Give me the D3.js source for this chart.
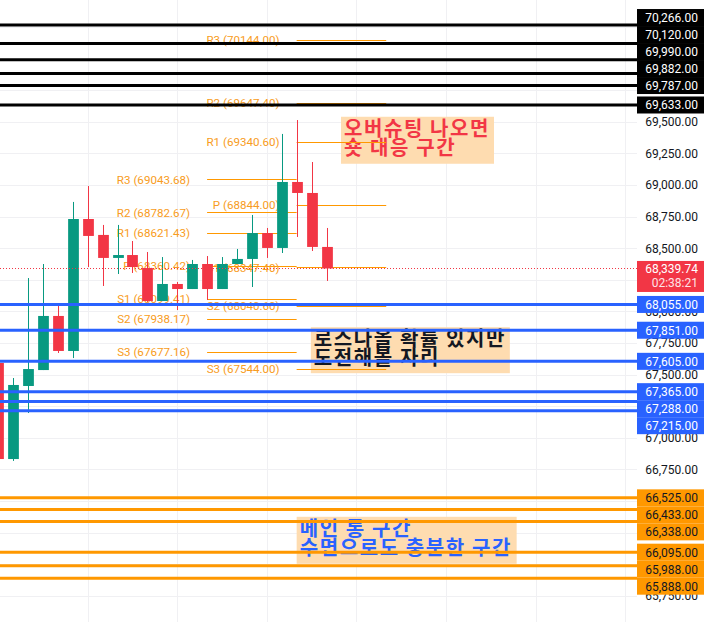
<!DOCTYPE html>
<html>
<head>
<meta charset="utf-8">
<script src="https://cdn.jsdelivr.net/npm/d3@7"></script>
<style>
  html, body { margin: 0; padding: 0; background: #fff; }
  svg { display: block; }
</style>
</head>
<body>
<svg id="chart" width="707" height="622"></svg>
<script>
// ---- price bars (4-hour candles), oldest first; first bar sits at index -1 ----
const barStart = -1;
const opens  = [67592, 66832, 67410, 67536, 67964, 67687, 68731, 68605, 68423, 68446, 68343, 68082, 68217, 68177, 68375, 68177, 68375, 68415, 68620, 68502, 69024, 68937, 68510];
const highs  = [67600, 67473, 68264, 68375, 68043, 68866, 68992, 68684, 68684, 68557, 68470, 68430, 68233, 68407, 68438, 68430, 68494, 68763, 68660, 69404, 69514, 69182, 68660];
const lows   = [66800, 66817, 67196, 67536, 67671, 67631, 68351, 68201, 68296, 68304, 68075, 68082, 68011, 68177, 68090, 68177, 68375, 68193, 68423, 68462, 68589, 68478, 68241];
const closes = [66832, 67418, 67544, 67964, 67687, 68731, 68597, 68423, 68446, 68351, 68082, 68217, 68177, 68375, 68177, 68375, 68415, 68620, 68502, 69024, 68937, 68510, 68339.74];

const lastPrice = 68339.74;
const countdown = "02:38:21";

// ---- Fibonacci pivot sets (each spans 6 bars) ----
const pivotNames = ["R3", "R2", "R1", "P", "S1", "S2", "S3"];
const pivotSpans = [[13, 19], [19, 25]];
const pivotsA = [69043.68, 68782.67, 68621.43, 68360.42, 68099.41, 67938.17, 67677.16];
const pivotsB = [70144.00, 69647.40, 69340.60, 68844.00, 68347.40, 68040.60, 67544.00];

// ---- hand-drawn horizontal levels ----
const blackLevels  = [70266, 70120, 69990, 69882, 69787, 69633];
const blueLevels   = [68055, 67851, 67605, 67365, 67288, 67215];
const orangeLevels = [66525, 66433, 66338, 66095, 65988, 65888];

// ---- price axis ticks and time grid ----
const priceTicks = d3.range(65750, 70251, 250);
const timeGridBars = [5, 11, 17, 23, 29, 35, 41];

// ---- notes ----
const notes = [
  { lines: ["오버슈팅 나오면", "숏 대응 구간"], color: "#f23645", price: 69540, bar: 21.97, w: 153, h: 47 },
  { lines: ["로스나올 확률 있지만", "도전해볼 자리"], color: "#131722", price: 67875, bar: 19.95, w: 199, h: 46 },
  { lines: ["메인 롱 구간", "수면으로도 충분한 구간"], color: "#2962ff", price: 66375, bar: 19.0, w: 220, h: 47 }
];

// ---------------------------------------------------------------
const W = 707, H = 622;
const plotRight = 637;
const svg = d3.select("#chart");

const x = d3.scaleLinear().domain([0, 41]).range([13, 625.1]);
const y = d3.scaleLinear().domain([65500, 70500]).range([627.4, -4.59]);
const step = x(1) - x(0);

const UP = "#089981", DOWN = "#f23645";
const axisFont = "Roboto, 'Noto Sans', sans-serif";
const fmt = d3.format(",.2f");

svg.append("rect").attr("width", W).attr("height", H).attr("fill", "#fff");

// grid
const grid = svg.append("g").attr("stroke", "#f0f0f3").attr("stroke-width", 1);
grid.selectAll("line.h").data(priceTicks).join("line")
  .attr("x1", 0).attr("x2", plotRight)
  .attr("y1", d => Math.round(y(d)) + 0.5).attr("y2", d => Math.round(y(d)) + 0.5);
grid.selectAll("line.v").data(timeGridBars).join("line")
  .attr("y1", 0).attr("y2", H)
  .attr("x1", d => Math.round(x(d)) + 0.5).attr("x2", d => Math.round(x(d)) + 0.5);

// notes (boxes with two-line text)
const noteG = svg.append("g");
notes.forEach(n => {
  const left = x(n.bar), top = y(n.price);
  noteG.append("rect")
    .attr("x", left).attr("y", top).attr("width", n.w).attr("height", n.h)
    .attr("fill", "#fedcb0");
  n.lines.forEach((t, k) => {
    noteG.append("text")
      .attr("x", left + 3).attr("y", top + 19 + k * 19)
      .attr("fill", n.color)
      .attr("font-family", "'Noto Sans CJK KR', sans-serif")
      .attr("font-size", 20)
      .attr("font-weight", "bold")
      .attr("letter-spacing", 1.6)
      .text(t);
  });
});

// pivot levels
const pivotG = svg.append("g");
[pivotsA, pivotsB].forEach((vals, p) => {
  const [b0, b1] = pivotSpans[p];
  const g = pivotG.append("g");
  g.selectAll("text").data(vals).join("text")
    .attr("x", x(b0) - 17)
    .attr("y", d => y(d))
    .attr("dy", "0.35em")
    .attr("text-anchor", "end")
    .attr("fill", "#f89c22")
    .attr("font-family", axisFont)
    .attr("font-size", 11.6)
    .text((d, i) => `${pivotNames[i]} (${d.toFixed(2)})`);
  g.selectAll("line").data(vals).join("line")
    .attr("x1", x(b0)).attr("x2", x(b1))
    .attr("y1", d => Math.round(y(d)) + 0.5).attr("y2", d => Math.round(y(d)) + 0.5)
    .attr("stroke", "#ff9800").attr("stroke-width", 1);
});

// candles
const bars = opens.map((o, k) => ({ i: barStart + k, o, h: highs[k], l: lows[k], c: closes[k] }));
const candleG = svg.append("g");
const bw = step * 0.72;
candleG.selectAll("line").data(bars).join("line")
  .attr("x1", d => Math.round(x(d.i)) + 0.5).attr("x2", d => Math.round(x(d.i)) + 0.5)
  .attr("y1", d => y(d.h)).attr("y2", d => y(d.l))
  .attr("stroke", d => d.c >= d.o ? UP : DOWN).attr("stroke-width", 1);
candleG.selectAll("rect").data(bars).join("rect")
  .attr("x", d => Math.round(x(d.i)) + 0.5 - bw / 2)
  .attr("width", bw)
  .attr("y", d => y(Math.max(d.o, d.c)))
  .attr("height", d => Math.max(1, Math.abs(y(d.o) - y(d.c))))
  .attr("fill", d => d.c >= d.o ? UP : DOWN);

// horizontal levels
const levelSets = [
  { vals: blackLevels, color: "#000000", text: "#ffffff" },
  { vals: blueLevels, color: "#2962ff", text: "#ffffff" },
  { vals: orangeLevels, color: "#ff9800", text: "#131722" }
];
const levelG = svg.append("g");
levelSets.forEach(s => {
  levelG.selectAll(null).data(s.vals).join("line")
    .attr("x1", 0).attr("x2", plotRight)
    .attr("y1", d => y(d)).attr("y2", d => y(d))
    .attr("stroke", s.color).attr("stroke-width", 3);
});

// last price line
svg.append("line")
  .attr("x1", 0).attr("x2", plotRight)
  .attr("y1", Math.round(y(lastPrice)) + 0.5).attr("y2", Math.round(y(lastPrice)) + 0.5)
  .attr("stroke", DOWN).attr("stroke-width", 1).attr("stroke-dasharray", "1,2");

// price labels for the levels, stacked away from the last price
const labelH = 17;
const priceBoxTop = y(lastPrice) - 7.5, priceBoxBottom = priceBoxTop + 31;
const allLevels = [];
levelSets.forEach(s => s.vals.forEach(v => allLevels.push({ v, s })));
const above = allLevels.filter(d => d.v > lastPrice).sort((a, b) => a.v - b.v);
const below = allLevels.filter(d => d.v < lastPrice).sort((a, b) => b.v - a.v);
let edge = priceBoxTop - labelH / 2;
above.forEach(d => { d.ly = Math.min(y(d.v), edge); edge = d.ly - labelH; });
edge = priceBoxBottom + labelH / 2;
below.forEach(d => { d.ly = Math.max(y(d.v), edge); edge = d.ly + labelH; });
const tagList = above.concat(below);

// covered spans on the axis (level tags + last price tag)
const spans = tagList.map(d => [d.ly - labelH / 2, d.ly + labelH / 2]).concat([[priceBoxTop, priceBoxBottom]]);
const hidden = v => {
  const t = y(v) - 4, b = y(v) + 4;
  return spans.some(([s0, s1]) => t >= s0 - 0.5 && b <= s1 + 0.5) ||
    spans.some(([s0, s1]) => spans.some(([u0, u1]) => t >= s0 - 0.5 && t <= s1 && b >= u0 && b <= u1 + 0.5 && Math.abs(s1 - u0) < 1.5));
};

// price axis (tick labels that sit fully under a tag are left out)
const axisG = svg.append("g").attr("transform", `translate(${plotRight},0)`)
  .call(d3.axisRight(y).tickValues(priceTicks.filter(v => !hidden(v))).tickSize(0).tickFormat(fmt));
axisG.select(".domain").remove();
axisG.selectAll("text")
  .attr("x", 61).attr("text-anchor", "end")
  .attr("fill", "#131722")
  .attr("font-family", axisFont).attr("font-size", 12);

const tagG = svg.append("g");
const tags = tagG.selectAll("g").data(tagList).join("g")
  .attr("transform", d => `translate(${plotRight},${d.ly})`);
tags.append("rect")
  .attr("x", 0).attr("y", -labelH / 2).attr("width", 67).attr("height", labelH)
  .attr("fill", d => d.s.color);
tags.append("text")
  .attr("x", 61).attr("dy", "0.36em").attr("text-anchor", "end")
  .attr("fill", d => d.s.text)
  .attr("font-family", axisFont).attr("font-size", 12)
  .text(d => fmt(d.v));

// last price tag
const lp = svg.append("g").attr("transform", `translate(${plotRight},${priceBoxTop})`);
lp.append("rect").attr("width", 67).attr("height", 31).attr("fill", DOWN);
lp.append("text").attr("x", 61).attr("y", 12).attr("text-anchor", "end")
  .attr("fill", "#fff").attr("font-family", axisFont).attr("font-size", 12)
  .text(fmt(lastPrice));
lp.append("text").attr("x", 61).attr("y", 26).attr("text-anchor", "end")
  .attr("fill", "#ffe3e6").attr("font-family", axisFont).attr("font-size", 12)
  .text(countdown);
</script>
</body>
</html>
